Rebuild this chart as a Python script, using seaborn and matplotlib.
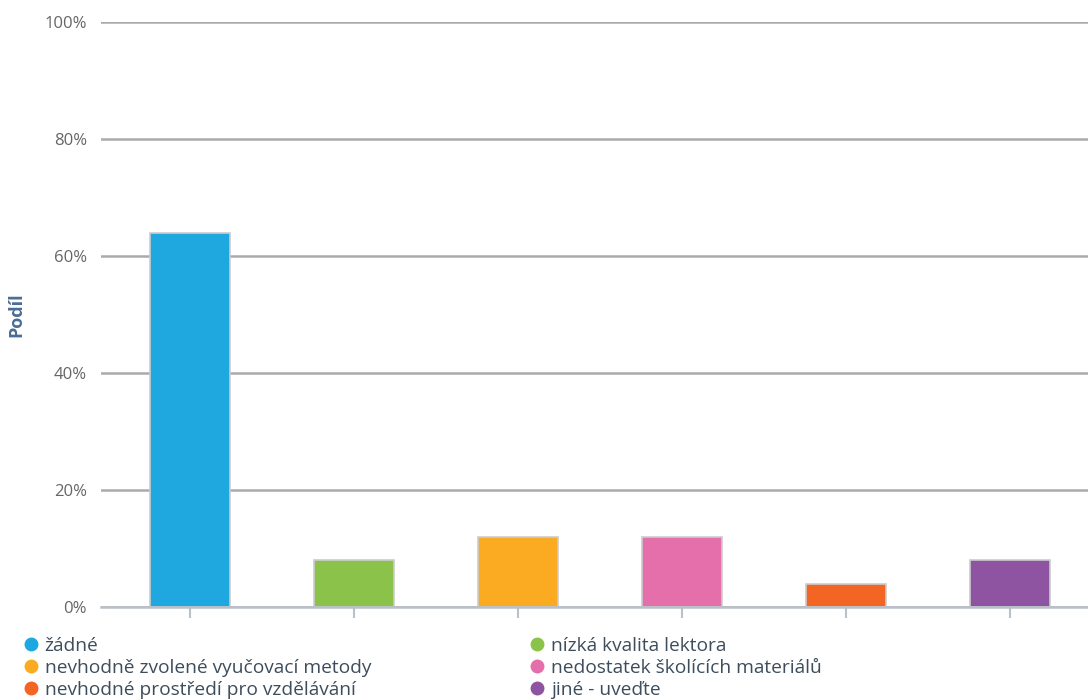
import matplotlib
matplotlib.use("Agg")
import matplotlib.pyplot as plt
from matplotlib.lines import Line2D
from matplotlib.ticker import PercentFormatter
import seaborn as sns
import pandas as pd

categories = [
    "žádné",
    "nízká kvalita lektora",
    "nevhodně zvolené vyučovací metody",
    "nedostatek školících materiálů",
    "nevhodné prostředí pro vzdělávání",
    "jiné - uveďte",
]
shares = [64, 8, 12, 12, 4, 8]
colors = ["#1fa8e0", "#8bc34a", "#fbab22", "#e56fab", "#f26522", "#8e54a2"]
y_ticks = [0, 20, 40, 60, 80, 100]

sns.set_theme(style="white")
plt.rcParams["font.family"] = ["Open Sans", "DejaVu Sans"]

df = pd.DataFrame({"kategorie": categories, "podil": shares})

fig = plt.figure(figsize=(10.88, 7.0), dpi=100)
ax = fig.add_axes([101 / 1088, 93 / 700, 1 - 101 / 1088, 585 / 700])

sns.barplot(
    data=df, x="kategorie", y="podil", hue="kategorie",
    palette=colors, order=categories, hue_order=categories,
    width=0.49, dodge=False, legend=False, saturation=1,
    edgecolor="#cccccc", linewidth=1.2, ax=ax, zorder=3,
)

ax.set_ylim(0, 100)
ax.set_xlim(-0.543, 5.476)
ax.set_yticks(y_ticks)
ax.yaxis.set_major_formatter(PercentFormatter(decimals=0))
ax.grid(axis="y", color="#aaaaaa", linewidth=1.8, zorder=0)
ax.grid(axis="x", visible=False)
for s in ["top", "right", "left"]:
    ax.spines[s].set_visible(False)
ax.spines["bottom"].set_color("#b8c0c8")
ax.spines["bottom"].set_linewidth(1.8)
ax.spines["bottom"].set_zorder(4)

ax.tick_params(axis="y", length=0, pad=10, labelsize=12, labelcolor="#666666")
ax.tick_params(axis="x", bottom=True, length=8, width=1.5, color="#b8c0c8",
               labelbottom=False)
ax.set_xlabel("")
ax.set_ylabel("Podíl", fontsize=13, fontweight="bold", color="#4a6d95", labelpad=14)

handles = [
    Line2D([0], [0], marker="o", linestyle="none", markersize=9,
           markerfacecolor=c, markeredgecolor=c)
    for c in colors
]
order = [0, 2, 4, 1, 3, 5]
fig.legend(
    [handles[i] for i in order], [categories[i] for i in order],
    ncol=2, loc="upper left", bbox_to_anchor=(23 / 1088, 1 - 637 / 700),
    frameon=False, fontsize=13.8, labelcolor="#3d4d5c",
    handletextpad=0.33, handlelength=0.8, labelspacing=0.2,
    columnspacing=8.24, borderaxespad=0, borderpad=0,
)

fig.savefig("out.png", dpi=100)
